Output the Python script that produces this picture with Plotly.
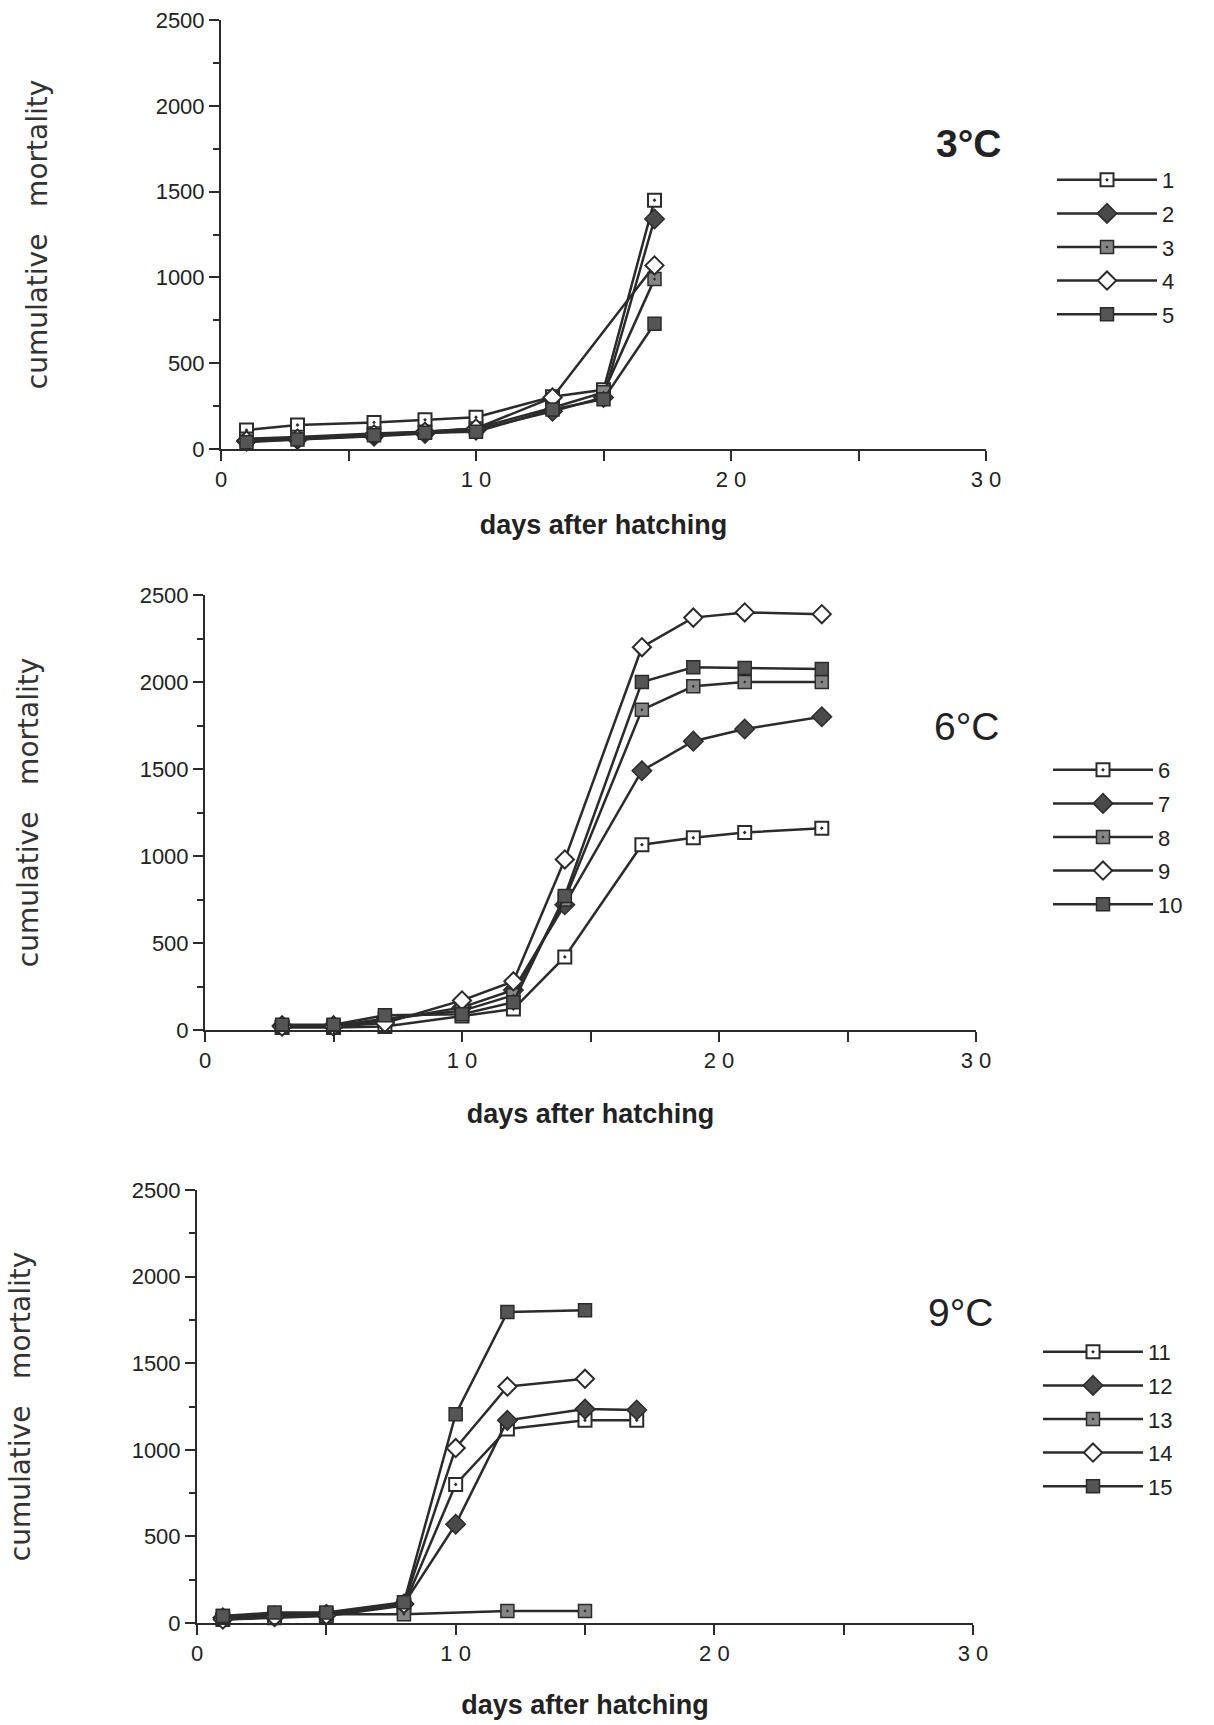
import plotly.graph_objects as go

# ---------------- data ----------------
days_3c = [1, 3, 6, 8, 10, 13, 15, 17]
mort_3c = {
    "1": [110, 140, 155, 170, 185, 305, 345, 1450],
    "2": [45, 55, 75, 90, 110, 220, 300, 1340],
    "3": [60, 70, 90, 100, 120, 240, 330, 990],
    "4": [50, 60, 85, 100, 120, 300, None, 1070],
    "5": [40, 55, 80, 95, 100, 230, 290, 730],
}

days_6c = [3, 5, 7, 10, 12, 14, 17, 19, 21, 24]
mort_6c = {
    "6": [15, 15, 20, 80, 120, 420, 1065, 1105, 1135, 1160],
    "7": [25, 25, 55, 130, 230, 720, 1490, 1660, 1730, 1800],
    "8": [25, 25, 65, 110, 200, 750, 1840, 1975, 2000, 2000],
    "9": [20, 20, 40, 170, 280, 980, 2200, 2370, 2400, 2390],
    "10": [30, 30, 85, 90, 160, 770, 2000, 2085, 2080, 2075],
}

days_9c = [1, 3, 5, 8, 10, 12, 15, 17]
mort_9c = {
    "11": [20, 30, 40, 100, 800, 1120, 1170, 1170],
    "12": [30, 40, 50, 110, 570, 1170, 1235, 1230],
    "13": [40, 50, 50, 50, None, 70, 70, None],
    "14": [20, 35, 45, 110, 1010, 1365, 1410, None],
    "15": [40, 60, 60, 120, 1205, 1795, 1805, None],
}

temperatures = ["3°C", "6°C", "9°C"]
y_ticks = [0, 500, 1000, 1500, 2000, 2500]
x_tickvals = [0, 10, 20, 30]
x_ticktext = ["0", "1 0", "2 0", "3 0"]

# ---------------- layout helpers ----------------
W, H = 1214, 1725
panels = [
    # (left px, right px, top px, bottom px)
    (221, 986, 20, 449),
    (205, 976, 595, 1030),
    (197, 973, 1190, 1623),
]
temp_pos = [(968, 143, True), (966, 726, False), (960, 1312, False)]
legend_top = [159, 749, 1331]
legend_left = [1052, 1048, 1038]
ytitle_standoff = [100, 93, 93]
xtitle_standoff = [24, 32, 30]

LINE = "#2b2b2b"
styles = [
    dict(symbol="square-dot", color="white", size=13, line=dict(color=LINE, width=2)),
    dict(symbol="diamond", color="#4a4a4a", size=15, line=dict(color=LINE, width=1.5)),
    dict(symbol="square-dot", color="#858585", size=13, line=dict(color=LINE, width=1.5)),
    dict(symbol="diamond", color="white", size=14, line=dict(color=LINE, width=2)),
    dict(symbol="square", color="#555555", size=13, line=dict(color=LINE, width=1.5)),
]

TICKFONT = dict(family="Liberation Sans, Arial, sans-serif", size=22, color="#222")

fig = go.Figure()
datasets = [(days_3c, mort_3c), (days_6c, mort_6c), (days_9c, mort_9c)]

for p, (days, series) in enumerate(datasets):
    sfx = "" if p == 0 else str(p + 1)
    leg = "legend" if p == 0 else f"legend{p + 1}"
    for i, (name, vals) in enumerate(series.items()):
        fig.add_trace(go.Scatter(
            x=days, y=vals, name=name, mode="lines+markers",
            connectgaps=True, cliponaxis=False,
            line=dict(color=LINE, width=2.5),
            marker=styles[i],
            xaxis="x" + sfx, yaxis="y" + sfx,
            legend=leg, legendgroup=f"g{p}_{i}",
        ))

    l, r, t, b = panels[p]
    xd = [l / W, r / W]
    yd = [1 - b / H, 1 - t / H]
    xax = dict(
        domain=xd, range=[0, 30], anchor="y" + sfx, automargin=False,
        showline=True, linecolor=LINE, linewidth=2,
        showgrid=False, zeroline=False,
        tickmode="array", tickvals=x_tickvals, ticktext=x_ticktext,
        ticks="outside", ticklen=10, tickwidth=2, tickcolor=LINE,
        minor=dict(dtick=5, ticks="outside", ticklen=10, tickwidth=2, tickcolor=LINE),
        tickfont=TICKFONT,
        title=dict(text="<b>days after hatching</b>",
                   font=dict(family="Liberation Sans, Arial, sans-serif", size=27, color="#222"),
                   standoff=xtitle_standoff[p]),
    )
    yax = dict(
        domain=yd, range=[0, 2500], anchor="x" + sfx, automargin=False,
        showline=True, linecolor=LINE, linewidth=2,
        showgrid=False, zeroline=False,
        tickmode="array", tickvals=y_ticks,
        ticks="outside", ticklen=10, tickwidth=2, tickcolor=LINE,
        minor=dict(dtick=250, ticks="outside", ticklen=6, tickwidth=2, tickcolor=LINE),
        tickfont=TICKFONT,
        title=dict(text="cumulative   mortality",
                   font=dict(family="DejaVu Sans, sans-serif", size=28, color="#333"),
                   standoff=ytitle_standoff[p]),
    )
    fig.update_layout(**{"xaxis" + sfx: xax, "yaxis" + sfx: yax})

    tx, ty, bold = temp_pos[p]
    fig.add_annotation(
        x=tx / W, y=1 - ty / H, xref="paper", yref="paper",
        text=f"<b>{temperatures[p]}</b>" if bold else temperatures[p],
        showarrow=False, xanchor="center", yanchor="middle",
        font=dict(family="Liberation Sans, Arial, sans-serif", size=39, color="#222"),
    )

    fig.update_layout(**{leg: dict(
        x=legend_left[p] / W, y=1 - legend_top[p] / H,
        xanchor="left", yanchor="top",
        bgcolor="rgba(0,0,0,0)", borderwidth=0,
        font=dict(family="Liberation Sans, Arial, sans-serif", size=22, color="#222"),
        tracegroupgap=2, itemwidth=100, traceorder="grouped",
    )})

fig.update_layout(
    width=W, height=H,
    margin=dict(l=0, r=0, t=0, b=0, autoexpand=False),
    paper_bgcolor="white", plot_bgcolor="white",
    showlegend=True,
)

fig.write_html("out.html")
